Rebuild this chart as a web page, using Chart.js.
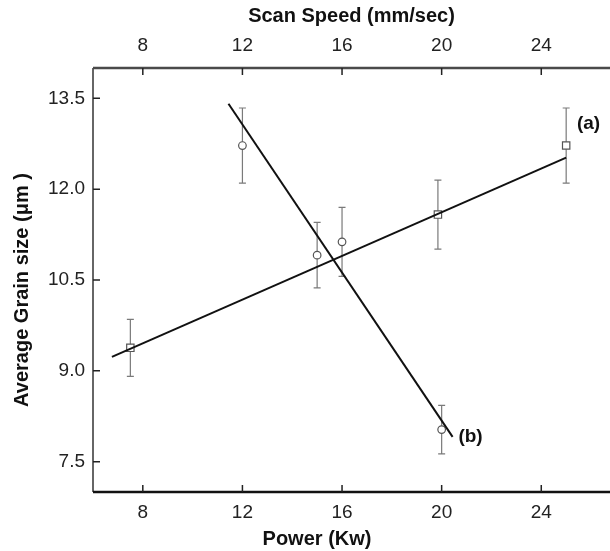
<!DOCTYPE html>
<html>
<head>
<meta charset="utf-8">
<script src="https://cdn.jsdelivr.net/npm/chart.js@4.4.0/dist/chart.umd.min.js"></script>
<style>
  body { margin: 0; background: #fff; }
  #wrap { width: 610px; height: 551px; }
</style>
</head>
<body>
<div id="wrap"><canvas id="grainChart"></canvas></div>
<script>
// (a) squares : grain size vs power
const powerA = [7.5, 19.85, 25];
const grainA = [9.38, 11.58, 12.72];
const errA = [0.47, 0.57, 0.62];

// (b) circles : grain size vs scan speed
const speedB = [12, 15, 16, 20];
const grainB = [12.72, 10.91, 11.13, 8.03];
const errB = [0.62, 0.54, 0.57, 0.40];

// linear fits (end points)
const fitAx = [6.76, 25];
const fitAy = [9.23, 12.52];
const fitBx = [11.44, 20.44];
const fitBy = [13.41, 7.91];

const xTicks = [8, 12, 16, 20, 24];
const yTicks = [7.5, 9.0, 10.5, 12.0, 13.5];

// curve labels, in data units
const curveLabels = [
    { text: '(a)', x: 25.9, y: 13.08 },
    { text: '(b)', x: 21.16, y: 7.91 }
];

const yTitle = 'Average Grain size (\u03bcm )';
const xTitle = 'Power (Kw)';

const FONT = 'Liberation Sans, Arial, sans-serif';

function toPoints(xs, ys) {
    return xs.map((x, i) => ({ x: x, y: ys[i] }));
}

// error bars, frame, inward ticks, axis titles and (a)/(b) labels
const extrasPlugin = {
    id: 'extras',
    beforeDatasetsDraw(chart) {
        const ctx = chart.ctx;
        const xs = chart.scales.x;
        const ys = chart.scales.y;
        ctx.save();
        ctx.strokeStyle = '#7a7a7a';
        ctx.lineWidth = 1.2;
        const drawBars = (xv, yv, ev) => {
            xv.forEach((x, i) => {
                const px = xs.getPixelForValue(x);
                const top = ys.getPixelForValue(yv[i] + ev[i]);
                const bot = ys.getPixelForValue(yv[i] - ev[i]);
                ctx.beginPath();
                ctx.moveTo(px, top); ctx.lineTo(px, bot);
                ctx.moveTo(px - 3.5, top); ctx.lineTo(px + 3.5, top);
                ctx.moveTo(px - 3.5, bot); ctx.lineTo(px + 3.5, bot);
                ctx.stroke();
            });
        };
        drawBars(powerA, grainA, errA);
        drawBars(speedB, grainB, errB);
        ctx.restore();
    },
    afterDraw(chart) {
        const ctx = chart.ctx;
        const a = chart.chartArea;
        const xs = chart.scales.x;
        const ys = chart.scales.y;
        ctx.save();
        // frame
        ctx.strokeStyle = '#333';
        ctx.lineWidth = 1.5;
        ctx.beginPath();
        ctx.moveTo(a.left, a.top); ctx.lineTo(a.left, a.bottom);
        ctx.stroke();
        ctx.strokeStyle = '#4a4a4a';
        ctx.lineWidth = 2.5;
        ctx.beginPath();
        ctx.moveTo(a.left, a.top); ctx.lineTo(a.right, a.top);
        ctx.stroke();
        ctx.strokeStyle = '#111';
        ctx.lineWidth = 2.5;
        ctx.beginPath();
        ctx.moveTo(a.left, a.bottom); ctx.lineTo(a.right, a.bottom);
        ctx.stroke();
        // inward ticks
        ctx.strokeStyle = '#222';
        ctx.lineWidth = 1.5;
        ctx.beginPath();
        xTicks.forEach(v => {
            const px = xs.getPixelForValue(v);
            ctx.moveTo(px, a.bottom); ctx.lineTo(px, a.bottom - 7);
            ctx.moveTo(px, a.top); ctx.lineTo(px, a.top + 7);
        });
        yTicks.forEach(v => {
            const py = ys.getPixelForValue(v);
            ctx.moveTo(a.left, py); ctx.lineTo(a.left + 7, py);
        });
        ctx.stroke();
        // axis titles (off-centre in the original)
        ctx.fillStyle = '#111';
        ctx.font = 'bold 20px ' + FONT;
        ctx.textAlign = 'center';
        ctx.textBaseline = 'middle';
        ctx.fillText(xTitle, 317, 539);
        ctx.save();
        ctx.translate(22, 290);
        ctx.rotate(-Math.PI / 2);
        ctx.fillText(yTitle, 0, 0);
        ctx.restore();
        // curve labels
        ctx.font = 'bold 19px ' + FONT;
        curveLabels.forEach(l => {
            ctx.fillText(l.text, xs.getPixelForValue(l.x), ys.getPixelForValue(l.y));
        });
        ctx.restore();
    }
};

const tickFont = { size: 19, family: FONT };
const titleFont = { size: 20, family: FONT, weight: 'bold' };

const config = {
    type: 'scatter',
    data: {
        datasets: [
            {
                label: 'fit a',
                type: 'line',
                data: toPoints(fitAx, fitAy),
                borderColor: '#111',
                borderWidth: 2,
                pointRadius: 0,
                fill: false
            },
            {
                label: 'fit b',
                type: 'line',
                data: toPoints(fitBx, fitBy),
                borderColor: '#111',
                borderWidth: 2,
                pointRadius: 0,
                fill: false
            },
            {
                label: '(a)',
                data: toPoints(powerA, grainA),
                pointStyle: 'rect',
                pointRadius: 5.2,
                backgroundColor: '#fff',
                borderColor: '#555',
                borderWidth: 1.2
            },
            {
                label: '(b)',
                data: toPoints(speedB, grainB),
                pointStyle: 'circle',
                pointRadius: 3.8,
                backgroundColor: '#fff',
                borderColor: '#555',
                borderWidth: 1.2
            }
        ]
    },
    options: {
        responsive: true,
        maintainAspectRatio: false,
        animation: false,
        layout: { autoPadding: false, padding: 0 },
        plugins: {
            legend: { display: false },
            tooltip: { enabled: false }
        },
        scales: {
            x: {
                type: 'linear',
                position: 'bottom',
                min: 6,
                max: 26.76,
                afterBuildTicks: s => { s.ticks = xTicks.map(v => ({ value: v })); },
                afterFit: s => { s.height = 59; },
                grid: { display: false, drawTicks: false },
                border: { display: false },
                ticks: { color: '#222', font: tickFont, padding: 9, maxRotation: 0 },
                title: { display: false }
            },
            x2: {
                type: 'linear',
                position: 'top',
                min: 6,
                max: 26.76,
                afterBuildTicks: s => { s.ticks = xTicks.map(v => ({ value: v })); },
                afterFit: s => { s.height = 68; },
                grid: { display: false, drawTicks: false },
                border: { display: false },
                ticks: { color: '#222', font: tickFont, padding: 11, maxRotation: 0 },
                title: { display: true, text: 'Scan Speed (mm/sec)', color: '#111', font: titleFont, padding: { top: 4, bottom: 0 } }
            },
            y: {
                type: 'linear',
                min: 7,
                max: 14,
                afterBuildTicks: s => { s.ticks = yTicks.map(v => ({ value: v })); },
                afterFit: s => { s.width = 93; },
                grid: { display: false, drawTicks: false },
                border: { display: false },
                ticks: { color: '#222', font: tickFont, padding: 8, callback: v => v.toFixed(1) },
                title: { display: false }
            }
        }
    },
    plugins: [extrasPlugin]
};

new Chart(document.getElementById('grainChart').getContext('2d'), config);
</script>
</body>
</html>
